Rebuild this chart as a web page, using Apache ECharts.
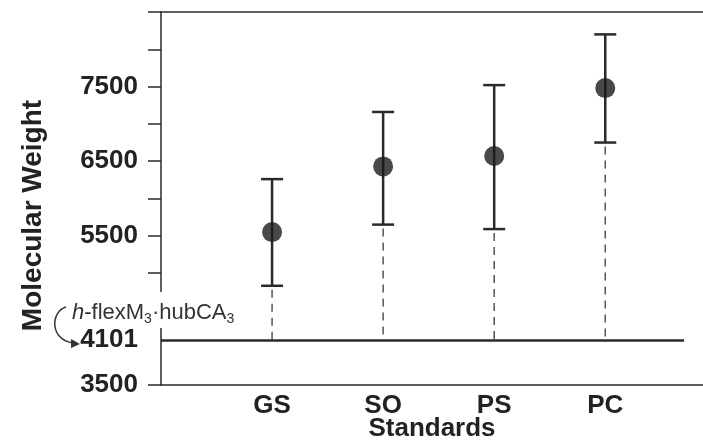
<!DOCTYPE html>
<html>
<head>
<meta charset="utf-8">
<script src="https://cdn.jsdelivr.net/npm/echarts@6/dist/echarts.min.js"></script>
<style>
  html, body { margin: 0; padding: 0; background: #fff; }
  #chart { width: 703px; height: 446px; }
</style>
</head>
<body>
<div id="chart"></div>
<script>
"use strict";

// data
var categories = ["GS", "SO", "PS", "PC"];
var catPos = [1, 2, 3, 4];
var means = [5550, 6430, 6570, 7480];
var upper = [6260, 7160, 7520, 8200];
var lower = [4830, 5650, 5590, 6750];
var baseline = 4101;
var yTickValues = [3500, 5000, 5500, 6000, 6500, 7000, 7500, 8000, 8500];
var yLabelValues = [3500, 4101, 5500, 6500, 7500];

var ink = "#2a2a2a";
var font = "Liberation Sans";

var chart = echarts.init(document.getElementById("chart"));

function renderErrorBar(params, api) {
  var x = api.value(0);
  var top = api.coord([x, api.value(2)]);
  var bot = api.coord([x, api.value(1)]);
  var base = api.coord([x, baseline]);
  var cap = 11;
  return {
    type: "group",
    children: [
      {
        type: "line",
        shape: { x1: bot[0], y1: bot[1] + 4, x2: base[0], y2: base[1] },
        style: { stroke: "#555", lineWidth: 1.5, lineDash: [8, 6] }
      },
      {
        type: "line",
        shape: { x1: top[0], y1: top[1], x2: bot[0], y2: bot[1] },
        style: { stroke: ink, lineWidth: 2.5 }
      },
      {
        type: "line",
        shape: { x1: top[0] - cap, y1: top[1], x2: top[0] + cap, y2: top[1] },
        style: { stroke: ink, lineWidth: 2.5 }
      },
      {
        type: "line",
        shape: { x1: bot[0] - cap, y1: bot[1], x2: bot[0] + cap, y2: bot[1] },
        style: { stroke: ink, lineWidth: 2.5 }
      }
    ]
  };
}

chart.setOption({
  animation: false,
  backgroundColor: "#fff",
  grid: { left: 161, right: 0, top: 12, bottom: 61, containLabel: false, outerBoundsMode: "none" },
  xAxis: [
    {
      type: "value",
      min: 0,
      max: 4.88,
      interval: 1,
      splitLine: { show: false },
      axisLine: { show: true, onZero: false, lineStyle: { color: ink, width: 1.5 } },
      axisTick: { show: false },
      axisLabel: {
        customValues: catPos,
        formatter: function (v) { return categories[catPos.indexOf(v)] || ""; },
        color: "#222",
        fontFamily: font,
        fontWeight: "bold",
        fontSize: 26,
        margin: 8
      },
      name: "Standards",
      nameLocation: "middle",
      nameGap: 31,
      nameMoveOverlap: false,
      nameTextStyle: { color: "#222", fontFamily: font, fontWeight: "bold", fontSize: 26 }
    },
    {
      type: "value",
      position: "top",
      min: 0,
      max: 4.88,
      splitLine: { show: false },
      axisLine: { show: true, lineStyle: { color: ink, width: 1.5 } },
      axisTick: { show: false },
      axisLabel: { show: false }
    }
  ],
  yAxis: {
    type: "value",
    min: 3500,
    max: 8500,
    interval: 500,
    splitLine: { show: false },
    axisLine: { show: true, lineStyle: { color: ink, width: 1.5 } },
    axisTick: { show: true, length: 13, customValues: yTickValues, lineStyle: { color: ink, width: 1.5 } },
    axisLabel: {
      customValues: yLabelValues,
      formatter: function (v) { return String(v); },
      color: "#222",
      fontFamily: font,
      fontWeight: "bold",
      fontSize: 26,
      margin: 23
    },
    name: "Molecular Weight",
    nameLocation: "middle",
    nameGap: 114,
    nameTextStyle: { color: "#222", fontFamily: font, fontWeight: "bold", fontSize: 28, padding: [0, 34, 0, 0] }
  },
  graphic: [
    {
      type: "text",
      left: 70,
      top: 292,
      z: 100,
      style: {
        text: "{i|h}-flexM{s|3}·hubCA{s|3}",
        fill: "#333",
        font: "22px " + font,
        backgroundColor: "#fff",
        padding: [8, 2, 2, 2],
        rich: {
          i: { fontStyle: "italic", fontSize: 22, fontFamily: font, lineHeight: 26 },
          s: { fontSize: 14, fontFamily: font, verticalAlign: "bottom", lineHeight: 14 }
        }
      }
    },
    {
      type: "bezierCurve",
      z: 100,
      shape: { x1: 66, y1: 307, cpx1: 50, cpy1: 312, cpx2: 50, cpy2: 340, x2: 73, y2: 343 },
      style: { stroke: "#333", lineWidth: 1.5, fill: null }
    },
    {
      type: "polygon",
      z: 100,
      shape: { points: [[80, 344], [71, 339], [71, 348]] },
      style: { fill: "#333" }
    }
  ],
  series: [
    {
      type: "custom",
      renderItem: renderErrorBar,
      data: catPos.map(function (x, i) { return [x, lower[i], upper[i]]; }),
      z: 2
    },
    {
      type: "scatter",
      symbol: "circle",
      symbolSize: 20,
      itemStyle: { color: "#1c1c1c" },
      data: catPos.map(function (x, i) { return [x, means[i]]; }),
      z: 3,
      markLine: {
        silent: true,
        symbol: "none",
        label: { show: false },
        lineStyle: { color: ink, width: 2.5, type: "solid" },
        data: [[{ coord: [0, baseline] }, { coord: [4.71, baseline] }]]
      }
    }
  ]
});
</script>
</body>
</html>
